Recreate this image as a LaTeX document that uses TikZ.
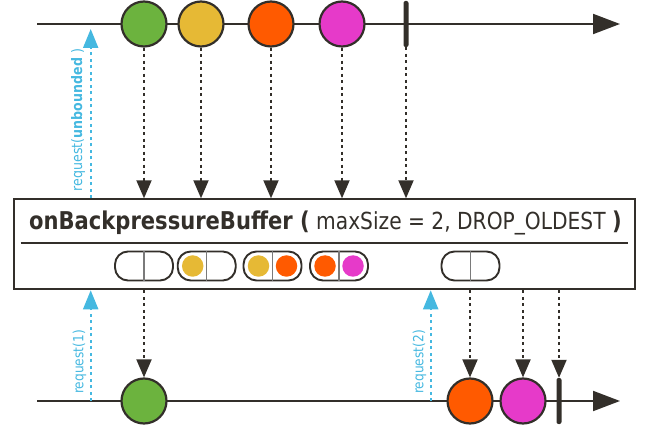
\documentclass[tikz,border=0pt]{standalone}
\usepackage{fontspec}
\setmainfont{DejaVu Sans}
\usetikzlibrary{arrows.meta}
\definecolor{ink}{HTML}{332F2A}
\definecolor{mgreen}{HTML}{6CB33E}
\definecolor{myellow}{HTML}{E6B935}
\definecolor{morange}{HTML}{FF5A00}
\definecolor{mpink}{HTML}{E63AC9}
\definecolor{reqblue}{HTML}{45B8E0}
\definecolor{divgrey}{HTML}{7A7A7A}
\begin{document}
\begin{tikzpicture}[x=1pt,y=-1pt,
  axis/.style={draw=ink,line width=2pt,-{Triangle[length=27pt,width=20pt]}},
  marble/.style={circle,draw=ink,line width=2.2pt,minimum size=45pt,inner sep=0pt},
  endbar/.style={rectangle,fill=ink,rounded corners=2pt,minimum width=5pt,minimum height=46pt,inner sep=0pt},
  emit/.style={draw=ink,line width=1.9pt,dash pattern=on 3pt off 3.5pt,-{Triangle[length=18pt,width=15pt]}},
  req/.style={draw=reqblue,line width=2.1pt,dash pattern=on 3pt off 3.5pt,-{Triangle[length=19pt,width=15pt]}},
  reqtext/.style={text=reqblue,font=\fontsize{14}{15}\selectfont,rotate=90,inner sep=0pt},
  opbox/.style={draw=ink,line width=2pt,minimum width=621pt,minimum height=90pt,inner sep=0pt},
  pill/.style={draw=ink,line width=1.9pt,rounded corners=13pt,minimum width=58pt,minimum height=29pt,inner sep=0pt},
  slot/.style={circle,minimum size=21.5pt,inner sep=0pt},
  divider/.style={draw=divgrey,line width=1.5pt}]
\useasboundingbox (0,0) rectangle (647,427);

% source timeline
\coordinate (tstart) at (37,24);
\coordinate (tend) at (620,24);
\draw[axis] (tstart) -- (tend);
\node[marble,fill=mgreen] (t1) at (144,24) {};
\node[marble,fill=myellow] (t2) at (201,24) {};
\node[marble,fill=morange] (t3) at (271,24) {};
\node[marble,fill=mpink] (t4) at (342,24) {};
\node[endbar] (tdone) at (406,24) {};

% operator box
\node[opbox] (box) at (324.2,244.3) {};
\coordinate (ruleL) at (20.7,243.3);
\coordinate (ruleR) at (628,243.3);
\draw[ink,line width=2pt] (ruleL) -- (ruleR);
\node[anchor=base west,inner sep=0pt,text=ink] (title) at (29,230)
  {\scalebox{0.86}[1]{{\fontsize{24.5}{25}\selectfont\bfseries onBackpressureBuffer (}%
   {\fontsize{23.5}{24}\selectfont\ maxSize = 2, DROP\_OLDEST }%
   {\fontsize{24.5}{25}\selectfont\bfseries )}}};

\foreach \t in {t1,t2,t3,t4,tdone}
  \draw[emit] (\t.south) -- (\t.south |- box.north);

% buffer states
\node[pill] (p1) at (144,266) {};
\node[pill] (p2) at (206.7,266) {};
\node[pill] (p3) at (272.5,266) {};
\node[pill] (p4) at (339,266) {};
\node[pill] (p5) at (470.5,266) {};
\foreach \p in {p1,p2,p3,p4,p5}
  \draw[divider] (\p.north) -- (\p.south);
\node[slot,fill=myellow] (p2a) at ([xshift=-14pt]p2.center) {};
\node[slot,fill=myellow] (p3a) at ([xshift=-14pt]p3.center) {};
\node[slot,fill=morange] (p3b) at ([xshift=14pt]p3.center) {};
\node[slot,fill=morange] (p4a) at ([xshift=-14pt]p4.center) {};
\node[slot,fill=mpink] (p4b) at ([xshift=14pt]p4.center) {};

% requests
\coordinate (rq0) at (90.7,29);
\draw[req] (box.north -| rq0) -- (rq0);
\node[reqtext] (rq0text) at (78,120)
  {\scalebox{0.87}[1]{\fontsize{14.5}{15}\selectfont request(\textbf{unbounded} )}};

% result timeline
\coordinate (bstart) at (37,401);
\coordinate (bend) at (620,401);
\draw[axis] (bstart) -- (bend);
\coordinate (rq1) at (90.7,401);
\coordinate (rq2) at (430.7,401);
\draw[req] (rq1) -- (rq1 |- box.south);
\draw[req] (rq2) -- (rq2 |- box.south);
\node[reqtext] (rq1text) at (79.5,362) {\scalebox{0.87}[1]{request(1)}};
\node[reqtext] (rq2text) at (419.5,362) {\scalebox{0.87}[1]{request(2)}};

\node[marble,fill=mgreen] (b1) at (144,401) {};
\node[marble,fill=morange] (b2) at (470,401) {};
\node[marble,fill=mpink] (b3) at (523,401) {};
\node[endbar] (bdone) at (559,401) {};
\foreach \b in {b1,b2,b3,bdone}
  \draw[emit] (\b.north |- box.south) -- (\b.north);
\end{tikzpicture}
\end{document}
